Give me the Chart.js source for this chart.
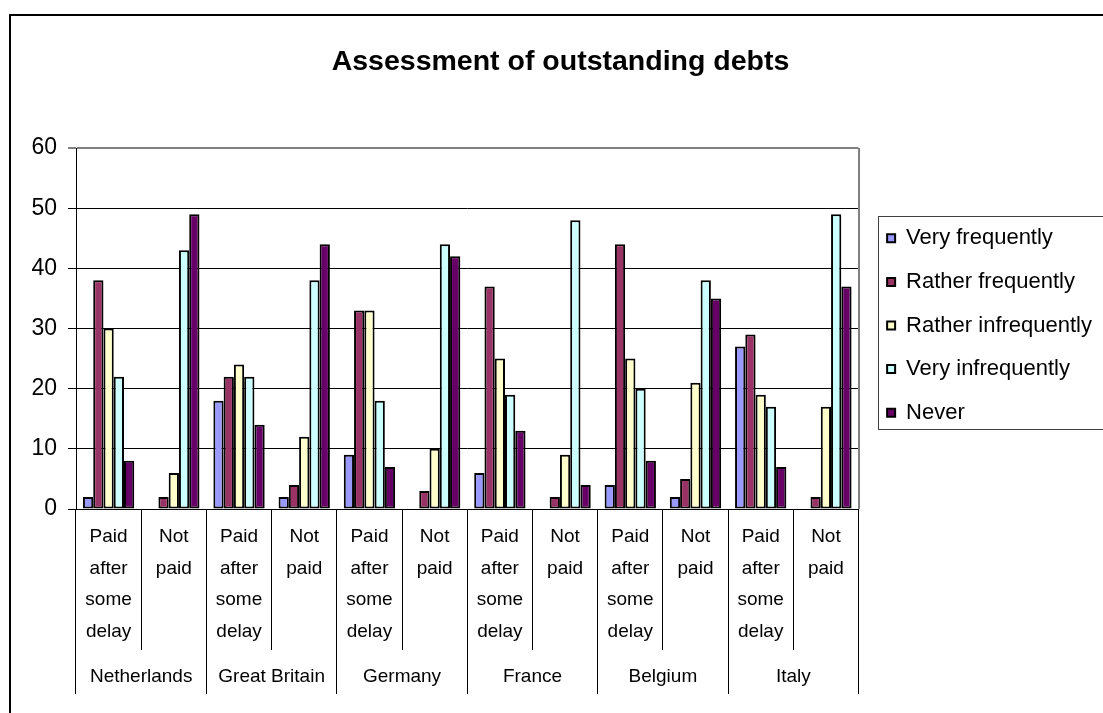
<!DOCTYPE html>
<html>
<head>
<meta charset="utf-8">
<title>Assessment of outstanding debts</title>
<script src="https://cdn.jsdelivr.net/npm/chart.js@4.4.1/dist/chart.umd.min.js"></script>
<style>
  html, body { margin: 0; padding: 0; background: #fff; overflow: hidden; }
  #wrap { position: relative; width: 1103px; height: 713px; }
  #frame {
    position: absolute; left: 9px; top: 14px; width: 1200px; height: 800px;
    border-left: 2px solid #000; border-top: 2px solid #000; pointer-events: none;
  }
  canvas { display: block; }
</style>
</head>
<body>
<div id="wrap">
  <canvas id="chart" width="1103" height="713"></canvas>
  <div id="frame"></div>
</div>
<script>
// Payment outcome per country (inner axis level)
const outcomes = [
  ["Paid", "after", "some", "delay"], ["Not", "paid"],
  ["Paid", "after", "some", "delay"], ["Not", "paid"],
  ["Paid", "after", "some", "delay"], ["Not", "paid"],
  ["Paid", "after", "some", "delay"], ["Not", "paid"],
  ["Paid", "after", "some", "delay"], ["Not", "paid"],
  ["Paid", "after", "some", "delay"], ["Not", "paid"]
];
// Countries (outer axis level)
const countries = ["Netherlands", "Great Britain", "Germany", "France", "Belgium", "Italy"];

// Share of respondents per frequency answer
const veryFrequently     = [2, 0, 18, 2, 9, 0, 6, 0, 4, 2, 27, 0];
const ratherFrequently   = [38, 2, 22, 4, 33, 3, 37, 2, 44, 5, 29, 2];
const ratherInfrequently = [30, 6, 24, 12, 33, 10, 25, 9, 25, 21, 19, 17];
const veryInfrequently   = [22, 43, 22, 38, 18, 44, 19, 48, 20, 38, 17, 49];
const never              = [8, 49, 14, 44, 7, 42, 13, 4, 8, 35, 7, 37];

const seriesNames = ["Very frequently", "Rather frequently", "Rather infrequently", "Very infrequently", "Never"];
const seriesColors = ["#9999FF", "#993366", "#FFFFCC", "#CCFFFF", "#660066"];
const seriesValues = [veryFrequently, ratherFrequently, ratherInfrequently, veryInfrequently, never];

const FONT = "'Liberation Sans', Arial, Helvetica, sans-serif";
const LEGEND_PAD = 21.6;
const LEGEND_FONT = 22;

// Plot-area frame (right edge) and the legend's bordered box
const chartDecor = {
  id: 'chartDecor',
  afterLayout(chart) {
    const L = chart.legend;
    if (!L) return;
    L.left += 7; L.right += 7;
    L.top -= 3; L.bottom -= 3;
  },
  afterDatasetsDraw(chart) {
    const {ctx, chartArea: a} = chart;
    ctx.save();
    ctx.strokeStyle = '#808080';
    ctx.lineWidth = 2;
    ctx.beginPath();
    ctx.moveTo(a.right + 0.5, a.top);
    ctx.lineTo(a.right + 0.5, a.bottom);
    ctx.stroke();
    ctx.restore();
  },
  afterDraw(chart) {
    const L = chart.legend;
    if (!L) return;
    const ctx = chart.ctx;
    const itemH = LEGEND_FONT;
    const colH = seriesNames.length * (itemH + LEGEND_PAD);
    const startY = (L.top + LEGEND_PAD + L.bottom - colH) / 2;
    const x0 = Math.round(L.left + LEGEND_PAD - 9) + 0.5;
    const y0 = Math.round(startY - 11) + 0.5;
    const y1 = Math.round(startY + colH - LEGEND_PAD + 5.5) + 0.5;
    ctx.save();
    ctx.strokeStyle = '#404040';
    ctx.lineWidth = 1;
    ctx.strokeRect(x0, y0, 400, y1 - y0);
    ctx.restore();
  }
};

new Chart(document.getElementById('chart'), {
  type: 'bar',
  data: {
    labels: outcomes,
    datasets: seriesNames.map((name, i) => ({
      label: name,
      data: seriesValues[i],
      backgroundColor: seriesColors[i],
      borderColor: '#000',
      borderWidth: 2,
      borderSkipped: false,
      categoryPercentage: 0.787,
      barPercentage: 1.0
    }))
  },
  options: {
    responsive: false,
    animation: false,
    devicePixelRatio: 1,
    layout: { padding: { left: 26, right: 8, top: 0, bottom: 19 } },
    plugins: {
      tooltip: { enabled: false },
      title: {
        display: true,
        text: 'Assessment of outstanding debts',
        color: '#000',
        font: { family: FONT, size: 28.5, weight: 'bold', lineHeight: 1.2 },
        padding: { top: 44.9, bottom: 68.9 }
      },
      legend: {
        display: true,
        position: 'right',
        align: 'center',
        fullSize: false,
        labels: {
          color: '#000',
          font: { family: FONT, size: LEGEND_FONT },
          boxWidth: 8,
          boxHeight: 8,
          padding: LEGEND_PAD
        }
      }
    },
    scales: {
      x: {
        type: 'category',
        position: 'bottom',
        offset: true,
        weight: 0,
        grid: {
          offset: true,
          drawOnChartArea: false,
          drawTicks: true,
          tickLength: 141,
          color: '#000',
          lineWidth: 1
        },
        border: { display: true, color: '#000', width: 1 },
        ticks: {
          color: '#000',
          autoSkip: false,
          maxRotation: 0,
          minRotation: 0,
          padding: -129.15,
          font: { family: FONT, size: 19, lineHeight: '31.7px' }
        },
        afterFit(scale) { scale.height = 141; }
      },
      x2: {
        type: 'category',
        position: 'bottom',
        labels: countries,
        offset: true,
        weight: 1,
        grid: {
          offset: true,
          drawOnChartArea: false,
          drawTicks: true,
          tickLength: 44,
          color: '#000',
          lineWidth: 1
        },
        border: { display: false },
        ticks: {
          color: '#000',
          autoSkip: false,
          maxRotation: 0,
          minRotation: 0,
          padding: -29,
          font: { family: FONT, size: 19, lineHeight: 1.2 }
        },
        afterFit(scale) { scale.height = 44; }
      },
      y: {
        min: 0,
        max: 60,
        ticks: {
          stepSize: 10,
          color: '#000',
          padding: 11,
          font: { family: FONT, size: 23 }
        },
        grid: {
          color: (c) => (c.tick && c.tick.value === 60 ? '#808080' : '#000'),
          lineWidth: (c) => (c.tick && c.tick.value === 60 ? 2 : 1),
          tickLength: 8
        },
        border: { display: true, color: '#000', width: 1 },
        afterFit(scale) { scale.width = 50; }
      }
    }
  },
  plugins: [chartDecor]
});
</script>
</body>
</html>
